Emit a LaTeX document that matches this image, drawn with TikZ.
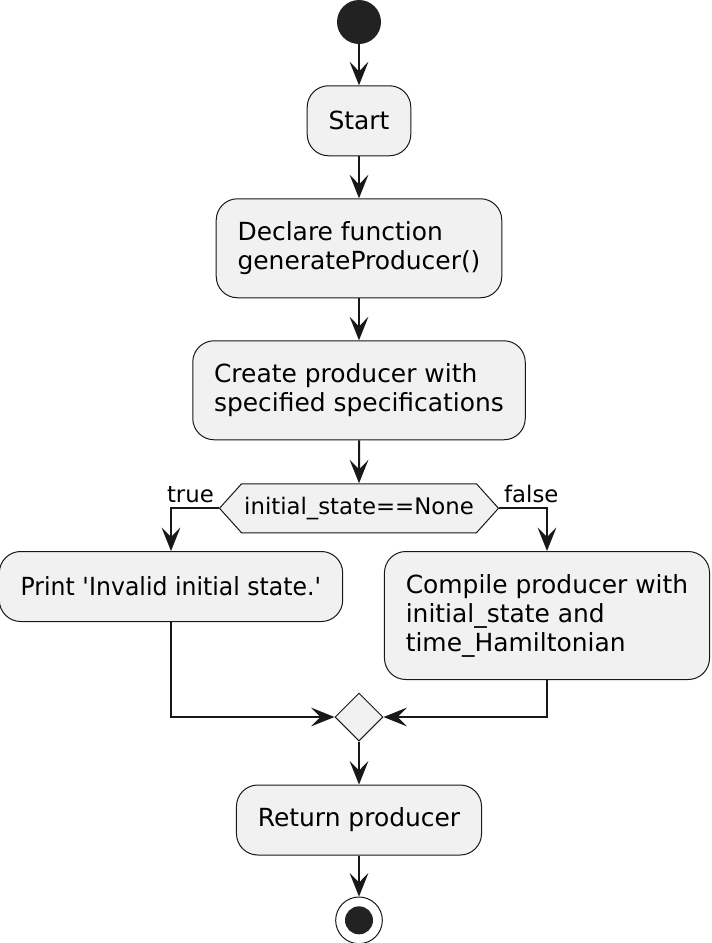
\documentclass[tikz,border=0pt]{standalone}
\usepackage{fontspec}
\setmainfont{DejaVu Sans}
\usepackage{tikz}
\usetikzlibrary{shapes.geometric, shapes.symbols, arrows.meta, positioning}
\definecolor{actFill}{HTML}{F1F1F1}
\definecolor{actLine}{HTML}{181818}
\definecolor{dotFill}{HTML}{222222}

\begin{document}
\begin{tikzpicture}[
    node distance=31.5pt,
    activity/.style={draw=actLine, fill=actFill, rounded corners=16pt,
                     line width=0.75pt, inner xsep=16pt, inner ysep=0pt,
                     minimum height=52.5pt, align=left,
                     font=\fontsize{18.7}{21.75}\selectfont},
    cond/.style={signal, signal to=west and east, signal pointer angle=96,
                 draw=actLine, fill=actFill, line width=0.75pt,
                 inner xsep=2pt, minimum height=36.75pt,
                 font=\fontsize{17.1}{20}\selectfont},
    joinpt/.style={diamond, draw=actLine, fill=actFill, line width=0.75pt,
                   minimum size=36pt, inner sep=0pt},
    arrow/.style={-{Stealth[length=17.5pt, width=14pt, inset=7pt]},
                  line width=1.5pt, draw=actLine},
    lbl/.style={font=\fontsize{17.1}{20}\selectfont, inner sep=3pt},
]
\useasboundingbox (0,0) rectangle (533.25pt,-707.25pt);

\node[circle, fill=dotFill, minimum size=33pt, inner sep=0pt] (begin) at (269.25pt,-16.5pt) {};
\node[activity, below=30.75pt of begin] (startact) {Start};
\node[activity, minimum height=74.25pt, below=of startact] (declare)
    {Declare function\\generateProducer()};
\node[activity, minimum height=74.25pt, below=of declare] (create)
    {Create producer with\\specified specifications};
\node[cond, below=32.25pt of create] (test) {initial\_state==None};

% the two branches
\node[activity, anchor=north] (print) at (128.25pt,-413.25pt)
    {\addfontfeature{FakeStretch=0.945}Print \textquotesingle Invalid initial state.\textquotesingle};
\node[activity, minimum height=96pt, anchor=north] (compile) at (410.25pt,-413.25pt)
    {Compile producer with\\initial\_state and\\time\_Hamiltonian};

\node[joinpt] (join) at (269.25pt,-537.75pt) {};
\node[activity, below=32.25pt of join] (ret) {Return producer};
\node[circle, draw=actLine, line width=0.75pt, fill=white, minimum size=35pt,
      inner sep=0pt, below=30.75pt of ret] (stop) {};
\node[circle, fill=dotFill, minimum size=21pt, inner sep=0pt] (stopdot) at (stop) {};

\draw[arrow] (begin) -- (startact);
\draw[arrow] (startact) -- (declare);
\draw[arrow] (declare) -- (create);
\draw[arrow] (create) -- (test);
\draw[arrow] (test.west) node[lbl, anchor=south east] {true} -| (print);
\draw[arrow] (test.east) node[lbl, anchor=south west] {false} -| (compile);
\draw[arrow] (print) |- (join);
\draw[arrow] (compile) |- (join);
\draw[arrow] (join) -- (ret);
\draw[arrow] (ret) -- (stop);
\end{tikzpicture}
\end{document}
